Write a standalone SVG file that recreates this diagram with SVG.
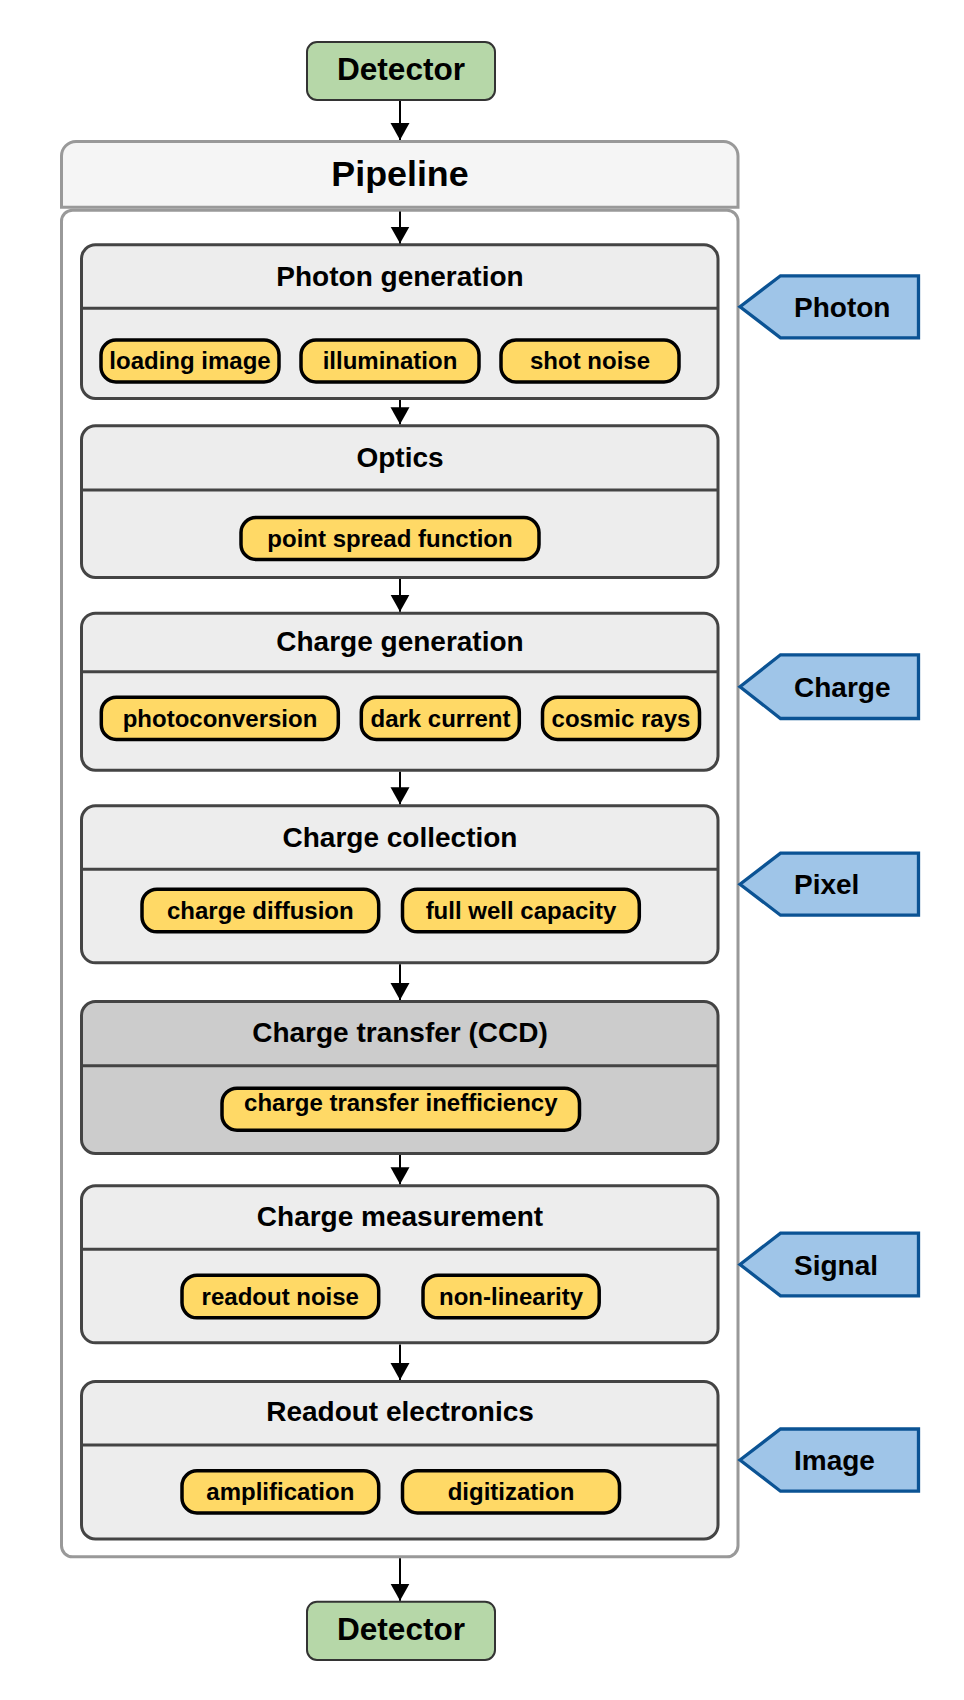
<svg xmlns="http://www.w3.org/2000/svg" width="964" height="1700" viewBox="0 0 964 1700">
<style>
text{font-family:"Liberation Sans",Arial,sans-serif;font-weight:bold;fill:#000}
.det{fill:#b6d7a8;stroke:#333;stroke-width:2}
.detT{font-size:31.6px;text-anchor:middle}
.pipeH{fill:#f5f5f5;stroke:#999;stroke-width:3}
.pipeB{fill:#fff;stroke:#999;stroke-width:3}
.pipeT{font-size:35.8px;text-anchor:middle}
.stage{fill:#ededed;stroke:#444;stroke-width:3}
.ccd{fill:#cccccc;stroke:#444;stroke-width:3}
.div{stroke:#444;stroke-width:3;fill:none}
.title{font-size:28px;text-anchor:middle}
.chip{fill:#ffd966;stroke:#000;stroke-width:3.5}
.chipT{font-size:24px;text-anchor:middle}
.tag{fill:#9fc5e8;stroke:#0b5394;stroke-width:3.3}
.tagT{font-size:28px}
.conn{stroke:#000;stroke-width:2;fill:none;marker-end:url(#arr)}
</style>
<defs>
<marker id="arr" markerUnits="userSpaceOnUse" markerWidth="20" markerHeight="20" refX="17" refY="9.5" orient="auto">
<path d="M0,0 L17,9.5 L0,19 Z" fill="#000"/>
</marker>
</defs>

<g id="pipeline">
<path class="pipeH" d="M61.5,207.2 V156 A14.5,14.5 0 0 1 76,141.5 H723.5 A14.5,14.5 0 0 1 738,156 V207.2 Z"/>
<rect class="pipeB" x="61.5" y="210.2" width="676.5" height="1346.6" rx="11"/>
<text class="pipeT" x="400" y="186">Pipeline</text>
</g>

<g id="detector-top">
<rect class="det" x="307" y="42" width="188" height="58" rx="10"/>
<text class="detT" x="401" y="80">Detector</text>
</g>

<g id="photon-generation">
<rect class="stage" x="81.5" y="244.8" width="636.5" height="153.7" rx="14"/>
<line class="div" x1="81.5" y1="308.3" x2="718" y2="308.3"/>
<text class="title" x="400" y="286">Photon generation</text>
<g id="chip-loading-image"><rect class="chip" x="101" y="340" width="178" height="42" rx="15"/><text class="chipT" x="190" y="369.3">loading image</text></g>
<g id="chip-illumination"><rect class="chip" x="301" y="340" width="178" height="42" rx="15"/><text class="chipT" x="390" y="369.3">illumination</text></g>
<g id="chip-shot-noise"><rect class="chip" x="501" y="340" width="178" height="42" rx="15"/><text class="chipT" x="590" y="369.3">shot noise</text></g>
</g>

<g id="optics">
<rect class="stage" x="81.5" y="425.8" width="636.5" height="151.7" rx="14"/>
<line class="div" x1="81.5" y1="490" x2="718" y2="490"/>
<text class="title" x="400" y="467">Optics</text>
<g id="chip-psf"><rect class="chip" x="241" y="517.5" width="298" height="42" rx="15"/><text class="chipT" x="390" y="547">point spread function</text></g>
</g>

<g id="charge-generation">
<rect class="stage" x="81.5" y="613.2" width="636.5" height="157" rx="14"/>
<line class="div" x1="81.5" y1="671.7" x2="718" y2="671.7"/>
<text class="title" x="400" y="651">Charge generation</text>
<g id="chip-photoconversion"><rect class="chip" x="101.3" y="697.2" width="237" height="42.3" rx="15"/><text class="chipT" x="220" y="727">photoconversion</text></g>
<g id="chip-dark-current"><rect class="chip" x="361.3" y="697.2" width="158" height="42.3" rx="15"/><text class="chipT" x="440.5" y="727">dark current</text></g>
<g id="chip-cosmic-rays"><rect class="chip" x="542.5" y="697.2" width="157" height="42.3" rx="15"/><text class="chipT" x="621" y="727">cosmic rays</text></g>
</g>

<g id="charge-collection">
<rect class="stage" x="81.5" y="805.8" width="636.5" height="157" rx="14"/>
<line class="div" x1="81.5" y1="869.3" x2="718" y2="869.3"/>
<text class="title" x="400" y="847">Charge collection</text>
<g id="chip-charge-diffusion"><rect class="chip" x="142" y="889.2" width="236.7" height="42.6" rx="15"/><text class="chipT" x="260.3" y="918.5">charge diffusion</text></g>
<g id="chip-full-well"><rect class="chip" x="402.5" y="889.2" width="236.8" height="42.6" rx="15"/><text class="chipT" x="521" y="918.5">full well capacity</text></g>
</g>

<g id="charge-transfer">
<rect class="ccd" x="81.5" y="1001.5" width="636.5" height="152" rx="14"/>
<line class="div" x1="81.5" y1="1065.7" x2="718" y2="1065.7"/>
<text class="title" x="400" y="1042">Charge transfer (CCD)</text>
<g id="chip-cti"><rect class="chip" x="222" y="1088.2" width="357.5" height="42" rx="15"/><text class="chipT" x="400.8" y="1111">charge transfer inefficiency</text></g>
</g>

<g id="charge-measurement">
<rect class="stage" x="81.5" y="1185.8" width="636.5" height="157" rx="14"/>
<line class="div" x1="81.5" y1="1249.3" x2="718" y2="1249.3"/>
<text class="title" x="400" y="1226">Charge measurement</text>
<g id="chip-readout-noise"><rect class="chip" x="182" y="1275.2" width="196.7" height="42.6" rx="15"/><text class="chipT" x="280.3" y="1305">readout noise</text></g>
<g id="chip-non-linearity"><rect class="chip" x="423" y="1275.2" width="176.2" height="42.6" rx="15"/><text class="chipT" x="511" y="1305">non-linearity</text></g>
</g>

<g id="readout-electronics">
<rect class="stage" x="81.5" y="1381.5" width="636.5" height="157.5" rx="14"/>
<line class="div" x1="81.5" y1="1445" x2="718" y2="1445"/>
<text class="title" x="400" y="1421.3">Readout electronics</text>
<g id="chip-amplification"><rect class="chip" x="182" y="1470.8" width="196.7" height="42.2" rx="15"/><text class="chipT" x="280.3" y="1500">amplification</text></g>
<g id="chip-digitization"><rect class="chip" x="402.5" y="1470.8" width="217" height="42.2" rx="15"/><text class="chipT" x="511" y="1500">digitization</text></g>
</g>

<g id="detector-bottom">
<rect class="det" x="307" y="1601.7" width="188" height="58.3" rx="10"/>
<text class="detT" x="401" y="1639.7">Detector</text>
</g>

<g id="tag-photon">
<polygon class="tag" points="740,306.7 780.5,275.8 918.5,275.8 918.5,337.8 780.5,337.8"/>
<text class="tagT" x="794" y="316.7">Photon</text>
</g>
<g id="tag-charge">
<polygon class="tag" points="740,686.7 780.5,654.8 918.5,654.8 918.5,718.5 780.5,718.5"/>
<text class="tagT" x="794" y="696.7">Charge</text>
</g>
<g id="tag-pixel">
<polygon class="tag" points="740,884.2 780.5,853.2 918.5,853.2 918.5,915.2 780.5,915.2"/>
<text class="tagT" x="794" y="894.3">Pixel</text>
</g>
<g id="tag-signal">
<polygon class="tag" points="740,1264.5 780.5,1233.2 918.5,1233.2 918.5,1295.8 780.5,1295.8"/>
<text class="tagT" x="794" y="1274.5">Signal</text>
</g>
<g id="tag-image">
<polygon class="tag" points="740,1460 780.5,1429 918.5,1429 918.5,1491.2 780.5,1491.2"/>
<text class="tagT" x="794" y="1470">Image</text>
</g>

<g id="connectors">
<line class="conn" x1="400" y1="101" x2="400" y2="140"/>
<line class="conn" x1="400" y1="211.5" x2="400" y2="243.5"/>
<line class="conn" x1="400" y1="400" x2="400" y2="424.3"/>
<line class="conn" x1="400" y1="579" x2="400" y2="611.7"/>
<line class="conn" x1="400" y1="771.7" x2="400" y2="804.3"/>
<line class="conn" x1="400" y1="964.3" x2="400" y2="1000"/>
<line class="conn" x1="400" y1="1155" x2="400" y2="1184.3"/>
<line class="conn" x1="400" y1="1344.5" x2="400" y2="1380"/>
<line class="conn" x1="400" y1="1558.3" x2="400" y2="1600.7"/>
</g>
</svg>
